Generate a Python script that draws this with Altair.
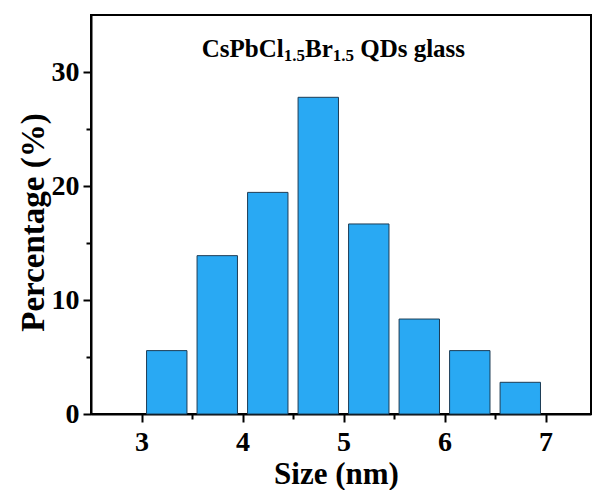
import altair as alt
import pandas as pd

# ---- data ----
size_centers = [3.25, 3.75, 4.25, 4.75, 5.25, 5.75, 6.25, 6.75]
percentages = [5.56, 13.89, 19.44, 27.78, 16.67, 8.33, 5.56, 2.78]
x_major = [3, 4, 5, 6, 7]
x_minor = [3.5, 4.5, 5.5, 6.5]
y_major = [0, 10, 20, 30]
y_minor = [5, 15, 25]
title_parts = ["CsPbCl", "1.5", "Br", "1.5", "QDs glass"]
x_title = "Size (nm)"
y_title = "Percentage (%)"

FONT = "Liberation Serif"
BAR_HALF = 0.2
X_DOMAIN = [2.5, 7.45]
Y_DOMAIN = [0, 35]

df = pd.DataFrame({"size": size_centers, "pct": percentages})

xs = alt.Scale(domain=X_DOMAIN, nice=False, zero=False)
ys = alt.Scale(domain=Y_DOMAIN, nice=False)

tick_style = dict(ticks=True, tickColor="black", tickWidth=2)

bars = (
    alt.Chart(df)
    .transform_calculate(x0=f"datum.size - {BAR_HALF}", x1=f"datum.size + {BAR_HALF}")
    .mark_bar(color="#29A9F3", stroke="#1d3c55", strokeWidth=1)
    .encode(
        x=alt.X(
            "x0:Q",
            scale=xs,
            axis=alt.Axis(
                orient="bottom",
                values=x_major,
                format="d",
                tickSize=8,
                labelPadding=6,
                title=x_title,
                titleX=245,
                titleY=69,
                titleAlign="center",
                titleBaseline="alphabetic",
                titleFontSize=31,
                **tick_style,
            ),
        ),
        x2="x1:Q",
        y=alt.Y(
            "pct:Q",
            scale=ys,
            axis=alt.Axis(
                orient="left",
                values=y_major,
                format="d",
                tickSize=8,
                labelPadding=4,
                title=y_title,
                titleAngle=270,
                titleX=-48,
                titleY=207,
                titleAlign="center",
                titleBaseline="alphabetic",
                titleFontSize=33,
                **tick_style,
            ),
        ),
        y2=alt.datum(0),
    )
)

minor = (
    alt.Chart(df)
    .mark_point(opacity=0)
    .encode(
        x=alt.X("size:Q", scale=xs,
                axis=alt.Axis(orient="bottom", values=x_minor, tickSize=5, labels=False,
                              domain=False, title=None, **tick_style)),
        y=alt.Y("pct:Q", scale=ys,
                axis=alt.Axis(orient="left", values=y_minor, tickSize=5, labels=False,
                              domain=False, title=None, **tick_style)),
    )
)

# title pieces (main text and subscripts)
piece_pos = [(110.7, 41.7, 25), (192.7, 46, 17), (214, 41.7, 25), (241.7, 46, 17), (269.2, 41.7, 25)]
layers = [bars, minor]
for txt, (px, py, fs) in zip(title_parts, piece_pos):
    layers.append(
        alt.Chart(pd.DataFrame({"t": [txt]}))
        .mark_text(align="left", baseline="alphabetic", font=FONT, fontWeight="bold", fontSize=fs, color="black")
        .encode(text="t:N", x=alt.value(px), y=alt.value(py))
    )

chart = (
    alt.layer(*layers)
    .resolve_axis(x="independent", y="independent")
    .properties(
        width=500,
        height=399,
        autosize=alt.AutoSizeParams(type="none"),
        padding={"left": 91, "top": 15, "right": 1, "bottom": 76},
    )
    .configure_view(stroke="black", strokeWidth=2)
    .configure_axis(
        grid=False,
        domainColor="black",
        domainWidth=2,
        tickColor="black",
        tickWidth=2,
        labelFont=FONT,
        labelFontSize=28,
        labelFontWeight="bold",
        labelColor="black",
        titleFont=FONT,
        titleFontWeight="bold",
        titleColor="black",
    )
)

chart.save("out.html", embed_options={"renderer": "svg", "actions": False})
